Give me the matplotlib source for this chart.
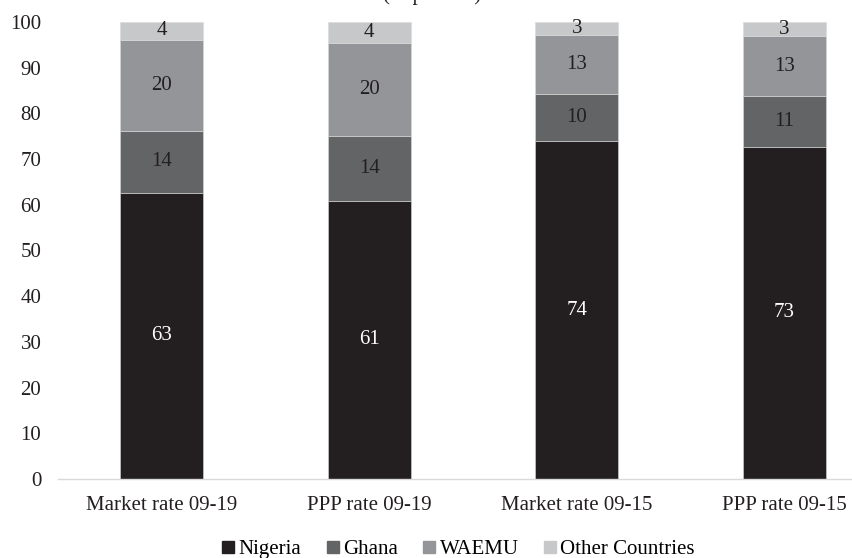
import numpy as np
import matplotlib
matplotlib.use("Agg")
import matplotlib.pyplot as plt
from matplotlib.lines import Line2D

plt.rcParams['font.family'] = ['Liberation Serif', 'DejaVu Serif']

# Participación por grupo de países (en porcentaje)
categorias = ['Market rate 09-19', 'PPP rate 09-19', 'Market rate 09-15', 'PPP rate 09-15']
nigeria = [62.6, 60.9, 73.9, 72.7]
ghana = [13.6, 14.2, 10.4, 11.0]
waemu = [19.9, 20.4, 12.9, 13.2]
otros = [3.9, 4.4, 2.8, 3.1]

series = ['Nigeria', 'Ghana', 'WAEMU', 'Other Countries']
colores = ['#231f20', '#636466', '#939598', '#c7c8ca']
color_texto = ['white', '#231f20', '#231f20', '#231f20']

fs = 15

fig = plt.figure(figsize=(8.53, 5.58), dpi=100)
ax = fig.add_axes([0.068, 0.1416, 0.932, 0.819])

x = np.arange(len(categorias))
base = np.zeros(len(categorias))
for nombre, valores, color, ctxt in zip(series, [nigeria, ghana, waemu, otros], colores, color_texto):
    valores = np.array(valores)
    ax.bar(x, valores, width=0.4, bottom=base, color=color, edgecolor='#d9d9d9', linewidth=0.4, label=nombre)
    for xi, b, v in zip(x, base, valores):
        ax.text(xi, b + v / 2, f"{v:.0f}", ha='center', va='center', color=ctxt, fontsize=fs)
    base += valores

ax.set_ylim(0, 100)
ax.set_xlim(-0.5, 3.33)
ax.set_yticks(np.arange(0, 101, 10))
ax.set_xticks(x)
ax.set_xticklabels(categorias)
ax.tick_params(axis='both', length=0, labelsize=fs, colors='#231f20')
ax.tick_params(axis='x', pad=12)
ax.tick_params(axis='y', pad=12)
for lado in ['top', 'right', 'left']:
    ax.spines[lado].set_visible(False)
ax.spines['bottom'].set_color('#d9d9d9')
ax.spines['bottom'].set_linewidth(1.0)

# título que queda recortado en el borde superior
fig.text(0.507, 1.0, '(In percent)', ha='center', va='baseline', fontsize=fs, color='#231f20')

handles = [Line2D([], [], marker='s', linestyle='none', markersize=9, color=c) for c in colores]
fig.legend(handles, series, loc='center', bbox_to_anchor=(0.535, 0.015), ncol=4, frameon=False,
           fontsize=fs, handletextpad=0.0, columnspacing=1.0, handlelength=1.0)

plt.savefig('out.png', dpi=100)
